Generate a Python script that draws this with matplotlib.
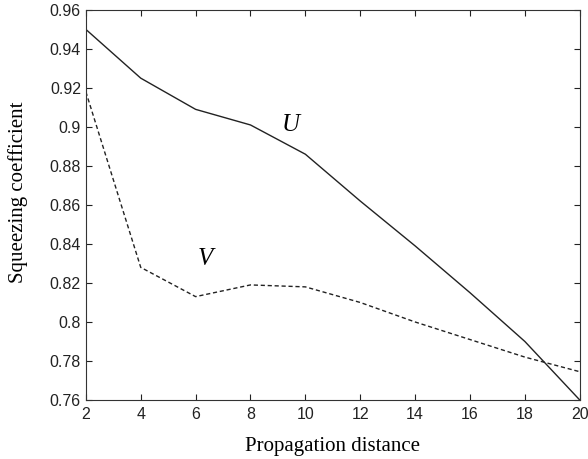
import matplotlib
matplotlib.use('Agg')
import matplotlib.pyplot as plt

distance = [2, 4, 6, 8, 10, 12, 14, 16, 18, 20]
u_vals = [0.950, 0.925, 0.909, 0.901, 0.886, 0.862, 0.839, 0.815, 0.790, 0.760]
v_vals = [0.918, 0.828, 0.813, 0.819, 0.818, 0.810, 0.800, 0.791, 0.782, 0.7745]
x_ticks = [2, 4, 6, 8, 10, 12, 14, 16, 18, 20]
y_ticks = [0.76, 0.78, 0.8, 0.82, 0.84, 0.86, 0.88, 0.9, 0.92, 0.94, 0.96]

fig = plt.figure(figsize=(5.88, 4.59), dpi=100)
ax = fig.add_axes([0.146, 0.1285, 0.84, 0.85])

ax.plot(distance, u_vals, color='#222222', linewidth=1.0, linestyle='-')
ax.plot(distance, v_vals, color='#222222', linewidth=1.0, linestyle=(0, (3, 2)))

ax.set_xlim(2, 20)
ax.set_ylim(0.76, 0.96)
ax.set_xticks(x_ticks)
ax.set_yticks(y_ticks)
ax.set_xticklabels([str(t) for t in x_ticks])
ax.set_yticklabels([f'{t:g}' for t in y_ticks])
ax.tick_params(direction='in', top=True, right=True, length=4, width=0.8,
               labelsize=11.5, colors='#222222')
ax.tick_params(axis='x', pad=5)
for lab in ax.get_xticklabels() + ax.get_yticklabels():
    lab.set_family('Liberation Sans')
for s in ax.spines.values():
    s.set_linewidth(0.8)
    s.set_color('#333333')

ax.set_xlabel('Propagation distance', family='Liberation Serif', fontsize=15)
ax.set_ylabel('Squeezing coefficient', family='Liberation Serif', fontsize=15)
ax.xaxis.set_label_coords(0.5, -0.095)
ax.yaxis.set_label_coords(-0.117, 0.533)

ax.text(9.45, 0.901, 'U', family='Liberation Serif', style='italic', fontsize=18,
        ha='center', va='center')
ax.text(6.35, 0.8325, 'V', family='Liberation Serif', style='italic', fontsize=18,
        ha='center', va='center')

fig.savefig('out.png', dpi=100)
